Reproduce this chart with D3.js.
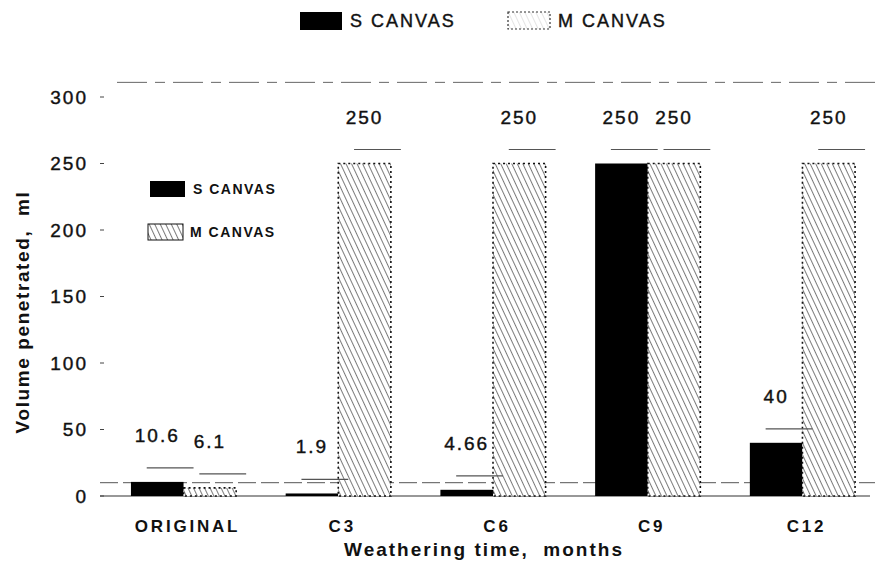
<!DOCTYPE html>
<html><head><meta charset="utf-8">
<script src="https://cdn.jsdelivr.net/npm/d3@7"></script>
<style>
body{margin:0;background:#fff;}
text{font-family:"Liberation Sans",Arial,sans-serif;fill:#111;}
</style></head>
<body><svg id="c" width="886" height="571"></svg>
<script>
const categories = ["ORIGINAL","C3","C6","C9","C12"];
const seriesNames = ["S CANVAS","M CANVAS"];
const sValues = [10.6, 1.9, 4.66, 250, 40];
const mValues = [6.1, 250, 250, 250, 250];
const sLabels = ["10.6","1.9","4.66","250","40"];
const mLabels = ["6.1","250","250","250","250"];
const yTicks = [0,50,100,150,200,250,300];

const svg = d3.select("#c");
const defs = svg.append("defs");
function hatch(id, color, w){
  const p = defs.append("pattern").attr("id",id).attr("patternUnits","userSpaceOnUse")
    .attr("width",5).attr("height",5).attr("patternTransform","rotate(-25)");
  p.append("rect").attr("width",5).attr("height",5).attr("fill","#fff");
  p.append("line").attr("x1",0).attr("y1",0).attr("x2",0).attr("y2",5)
    .attr("stroke",color).attr("stroke-width",w);
}
hatch("hatch","#333",1.3);
hatch("hatchLight","#bbb",0.8);

const y = d3.scaleLinear().domain([0,300]).range([496,97]);
const x0 = d3.scaleBand().domain(categories).range([100,886]).paddingInner(0.32).paddingOuter(0.2);
const x1 = d3.scaleBand().domain(seriesNames).range([0,x0.bandwidth()]);

// top dashed line
svg.append("line").attr("x1",117).attr("x2",880).attr("y1",y(311)).attr("y2",y(311))
  .attr("stroke","#666").attr("stroke-width",1).attr("stroke-dasharray","30,8,10,8");
// reference line near 10
svg.append("line").attr("x1",100).attr("x2",875).attr("y1",y(10)).attr("y2",y(10))
  .attr("stroke","#555").attr("stroke-width",1).attr("stroke-dasharray","18,5");
// baseline
svg.append("line").attr("x1",100).attr("x2",870).attr("y1",y(0)).attr("y2",y(0))
  .attr("stroke","#333").attr("stroke-width",1.2);

// y axis ticks
const ya = svg.append("g");
yTicks.forEach(t=>{
  ya.append("line").attr("x1",100).attr("x2",104).attr("y1",y(t)).attr("y2",y(t)).attr("stroke","#444");
  ya.append("text").attr("x",88).attr("y",y(t)).attr("dy","0.36em").attr("text-anchor","end")
    .attr("font-size",19).attr("letter-spacing",2).attr("stroke","#111").attr("stroke-width",0.4).text(t);
});

const rows = categories.map((c,i)=>({c, vals:[
  {k:seriesNames[0], v:sValues[i], lab:sLabels[i]},
  {k:seriesNames[1], v:mValues[i], lab:mLabels[i]}]}));

const g = svg.selectAll("g.grp").data(rows).join("g").attr("class","grp")
  .attr("transform",d=>`translate(${x0(d.c)},0)`);
g.selectAll("rect").data(d=>d.vals).join("rect")
  .attr("x",d=>x1(d.k)).attr("width",x1.bandwidth())
  .attr("y",d=>y(d.v)).attr("height",d=>y(0)-y(d.v))
  .attr("fill",d=>d.k===seriesNames[0]?"#000":"url(#hatch)")
  .attr("stroke",d=>d.k===seriesNames[0]?"none":"#111")
  .attr("stroke-width",1.6).attr("stroke-dasharray","2,3");
// leader marks above bars
g.selectAll("line.ld").data(d=>d.vals).join("line").attr("class","ld")
  .attr("x1",d=>x1(d.k)+x1.bandwidth()*0.3).attr("x2",d=>x1(d.k)+x1.bandwidth()+10)
  .attr("y1",d=>y(d.v)-14).attr("y2",d=>y(d.v)-14)
  .attr("stroke","#555").attr("stroke-width",1.2);
g.selectAll("text.vl").data(d=>d.vals).join("text").attr("class","vl")
  .attr("x",d=>x1(d.k)+x1.bandwidth()/2).attr("y",d=>y(d.v)-40)
  .attr("text-anchor","middle").attr("font-size",19).attr("letter-spacing",2)
  .attr("stroke","#111").attr("stroke-width",0.4).text(d=>d.lab);

// category labels
svg.selectAll("text.cat").data(categories).join("text").attr("class","cat")
  .attr("x",d=>x0(d)+x0.bandwidth()/2+4).attr("y",532).attr("text-anchor","middle")
  .attr("font-size",17).attr("font-weight","bold").attr("letter-spacing",2.8).text(d=>d);

// axis titles
svg.append("text").attr("x",484).attr("y",556).attr("text-anchor","middle")
  .attr("font-size",19).attr("font-weight","bold").attr("letter-spacing",2)
  .attr("xml:space","preserve").text("Weathering time,  months");
svg.append("text").attr("transform","translate(29,312) rotate(-90)").attr("text-anchor","middle")
  .attr("font-size",19).attr("font-weight","bold").attr("letter-spacing",1.6)
  .attr("xml:space","preserve").text("Volume penetrated,  ml");

// inner legend
const il = svg.append("g");
il.append("rect").attr("x",150).attr("y",181).attr("width",35).attr("height",16).attr("fill","#000");
il.append("text").attr("x",193).attr("y",189).attr("dy","0.36em").attr("font-size",14).attr("font-weight","bold").attr("letter-spacing",1.5).text(seriesNames[0]);
il.append("rect").attr("x",148).attr("y",224).attr("width",35).attr("height",16).attr("fill","url(#hatch)").attr("stroke","#111");
il.append("text").attr("x",190).attr("y",232).attr("dy","0.36em").attr("font-size",14).attr("font-weight","bold").attr("letter-spacing",1.5).text(seriesNames[1]);

// top legend
const tl = svg.append("g");
tl.append("rect").attr("x",300).attr("y",12).attr("width",42).attr("height",18).attr("fill","#000");
tl.append("text").attr("x",350).attr("y",21).attr("dy","0.36em").attr("font-size",18).attr("letter-spacing",2)
  .attr("stroke","#111").attr("stroke-width",0.4).text(seriesNames[0]);
tl.append("rect").attr("x",508).attr("y",12).attr("width",42).attr("height",17).attr("fill","url(#hatchLight)")
  .attr("stroke","#333").attr("stroke-width",1.2).attr("stroke-dasharray","2,2");
tl.append("text").attr("x",558).attr("y",21).attr("dy","0.36em").attr("font-size",18).attr("letter-spacing",2)
  .attr("stroke","#111").attr("stroke-width",0.4).text(seriesNames[1]);
</script></body></html>
